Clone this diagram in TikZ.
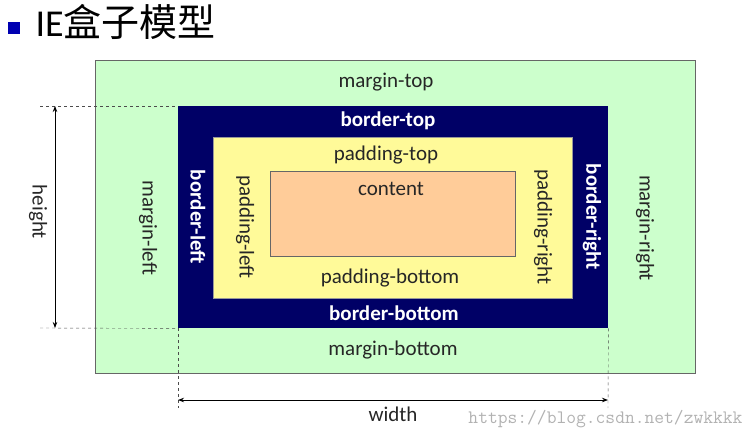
\documentclass[tikz,border=0pt]{standalone}
\usepackage{fontspec}
\setmainfont{Carlito}
\newfontfamily\cjk{Noto Sans CJK SC}
\usetikzlibrary{arrows.meta}
\begin{document}
\begin{tikzpicture}[x=1pt,y=-1pt,
  lbl/.style={font=\fontsize{21}{23}\selectfont,text=black!85},
  wlbl/.style={font=\bfseries\fontsize{21}{23}\selectfont,text=white},
  dim/.style={{Stealth[length=6pt]}-{Stealth[length=6pt]},thick},
  guide/.style={dashed,black!70}]
\useasboundingbox (0,0) rectangle (746,434);
\fill[blue!70!black] (8,22) rectangle (20,34);
\node[anchor=west,font=\fontsize{38}{40}\selectfont] (title) at (32,22) {IE\cjk 盒子模型};
\node[draw=black!60,fill=green!20,minimum width=600,minimum height=313,anchor=north west,inner sep=0] (margin) at (95,60) {};
\node[fill=blue!40!black,minimum width=430,minimum height=222,anchor=north west,inner sep=0] (border) at (178,106) {};
\node[fill=yellow!40,draw=black!40,minimum width=359,minimum height=161,anchor=north west,inner sep=0] (padding) at (213,137) {};
\node[fill=orange!40,draw=black!60,minimum width=245,minimum height=85,anchor=north west,inner sep=0] (content) at (270,171) {};
\node[lbl] (mt) at (386,82) {margin-top};
\node[lbl] (mb) at (393,350) {margin-bottom};
\node[lbl,rotate=-90] (ml) at (148,228) {margin-left};
\node[lbl,rotate=-90] (mr) at (645,228) {margin-right};
\node[wlbl] (bt) at (388,121) {border-top};
\node[wlbl] (bb) at (394,313) {border-bottom};
\node[wlbl,rotate=-90] (bl) at (198,217) {border-left};
\node[wlbl,rotate=-90] (br) at (592,217) {border-right};
\node[lbl] (pt) at (386,155) {padding-top};
\node[lbl] (pb) at (390,278) {padding-bottom};
\node[lbl,rotate=-90] (pl) at (245,227) {padding-left};
\node[lbl,rotate=-90] (pr) at (543,227) {padding-right};
\node[lbl] (ct) at (391,189) {content};
\coordinate (h1) at (40,106); \coordinate (h2) at (40,328);
\draw[guide] (h1) -- (border.north west);
\draw[guide] (h2) -- (border.south west);
\coordinate (ha) at (55,106); \coordinate (hb) at (55,328);
\draw[dim] (ha) -- (hb);
\node[lbl,rotate=-90] (ht) at (38,212) {height};
\coordinate (w1) at (178,408); \coordinate (w2) at (608,408);
\draw[guide] (border.south west) -- (w1);
\draw[guide] (border.south east) -- (w2);
\coordinate (wa) at (178,400); \coordinate (wb) at (608,400);
\draw[dim] (wa) -- (wb);
\node[lbl] (wt) at (393,414) {width};
\node[anchor=east,font=\ttfamily\fontsize{19}{20}\selectfont,text=black!30] (wm) at (746,419) {https://blog.csdn.net/zwkkkk};
\end{tikzpicture}
\end{document}
